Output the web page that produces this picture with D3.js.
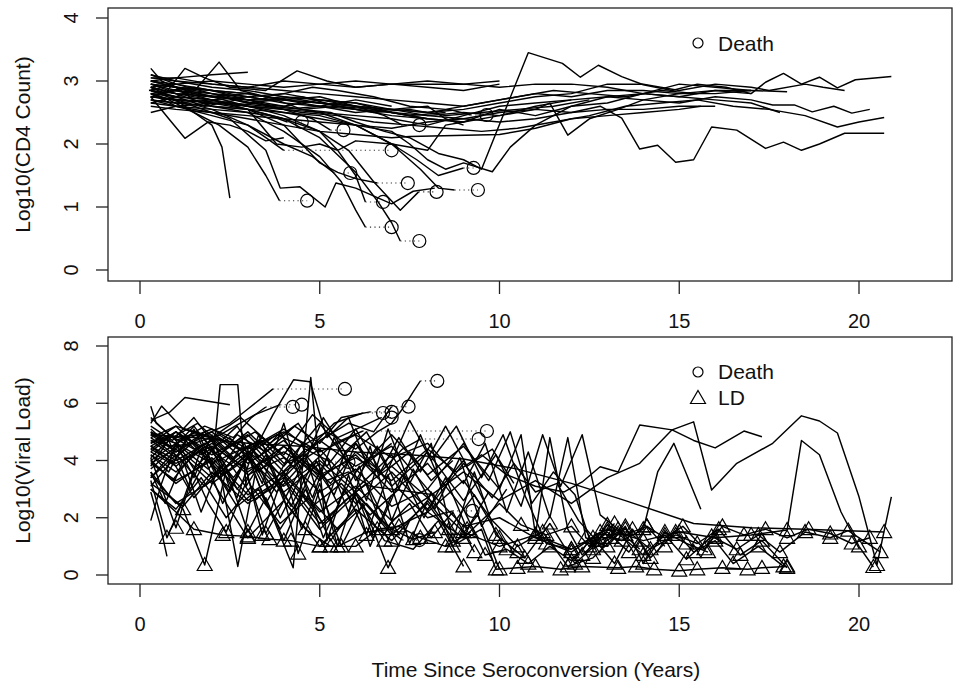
<!DOCTYPE html>
<html>
<head>
<meta charset="utf-8">
<script src="https://cdn.jsdelivr.net/npm/d3@7"></script>
<style>
  body { margin: 0; background: #fff; }
  text { font-family: "Liberation Sans", Arial, Helvetica, sans-serif; fill: #111; }
</style>
</head>
<body>
<svg width="955" height="691"></svg>
<script>

// ---- data (time in years, log10 values) ----

var xTicks = [0, 5, 10, 15, 20]
var cd4Ticks = [0, 1, 2, 3, 4]
var vlTicks = [0, 2, 4, 6, 8]

// CD4 subjects still alive at end of follow-up
var cd4Alive = [
  [[0.3,2.9],[0.8,2.95],[1.5,2.8],[2.2,2.75],[3.0,2.65],[3.8,2.7],[4.5,2.55],[5.3,2.5],[6.0,2.35],[6.8,2.2],[7.5,2.1],[8.3,1.85],[9.0,1.75],[9.5,1.6],[10.8,3.45],[11.75,3.28],[12.25,3.06],[12.75,3.25],[13.4,3.07],[14.0,2.94],[14.8,2.85],[15.5,2.95],[16.3,2.9],[17.0,2.8]],
  [[0.3,2.7],[1.0,2.65],[2.0,2.7],[3.0,2.6],[4.0,2.55],[5.0,2.6],[6.0,2.5],[7.0,2.55],[8.0,2.45],[9.0,2.5],[10.0,2.45],[11.0,2.55],[12.0,2.5],[12.8,2.6],[13.4,2.41],[13.9,1.92],[14.4,1.98],[14.9,1.71],[15.4,1.75],[15.9,2.27],[16.6,2.22],[17.4,1.93],[17.9,2.03],[18.4,1.9],[18.9,2.0],[19.6,2.17],[20.7,2.17]],
  [[0.25,2.85],[1.0,2.95],[2.0,3.0],[3.0,2.95],[4.0,2.9],[5.0,2.95],[6.0,2.9],[7.0,2.95],[8.0,2.95],[9.0,2.95],[10.0,2.9],[11.0,2.95],[12.0,2.95],[13.0,2.9],[14.0,2.8],[15.0,2.75],[16.0,2.85],[17.0,2.8],[17.4,2.98],[17.9,3.12],[18.4,2.95],[18.9,3.06],[19.4,2.89],[19.9,3.02],[20.9,3.07]],
  [[0.3,2.75],[1.2,2.7],[2.5,2.65],[3.5,2.6],[4.5,2.5],[5.5,2.45],[6.5,2.35],[7.5,2.3],[8.5,2.25],[9.5,2.2],[10.5,2.25],[11.5,2.35],[12.5,2.45],[13.5,2.6],[14.5,2.65],[15.5,2.7],[16.5,2.6],[17.5,2.55],[18.5,2.45],[19.4,2.27],[20.0,2.35],[20.7,2.42]],
  [[0.3,3.0],[1.0,2.9],[2.0,2.85],[3.0,2.8],[4.0,2.7],[5.0,2.65],[6.0,2.55],[7.0,2.5],[8.0,2.4],[9.0,2.35],[10.0,2.45],[11.0,2.6],[12.0,2.7],[13.0,2.75],[14.0,2.7],[15.0,2.65],[16.0,2.75],[17.0,2.7],[17.6,2.62],[18.2,2.62],[18.7,2.51],[19.3,2.6],[19.8,2.49],[20.3,2.55]],
  [[0.3,2.8],[1.0,2.85],[2.0,2.75],[3.0,2.8],[4.0,2.7],[5.0,2.75],[6.0,2.6],[7.0,2.55],[8.0,2.5],[9.0,2.55],[10.0,2.65],[11.0,2.75],[12.0,2.8],[13.0,2.95],[14.0,2.95],[15.0,2.85],[16.0,2.95],[17.0,2.9],[17.5,2.85],[18.5,2.95],[19.0,2.9],[19.6,2.85]],
  [[0.3,2.6],[1.0,2.55],[2.0,2.5],[3.0,2.45],[4.0,2.4],[5.0,2.35],[6.0,2.3],[7.0,2.25],[8.0,2.35],[9.0,2.4],[10.0,2.5],[11.0,2.55],[11.4,2.65],[11.9,2.14],[12.5,2.4],[13.3,2.55],[14.0,2.7],[15.0,2.8],[16.0,2.8],[17.0,2.85]],
  [[0.3,3.05],[1.0,3.0],[2.0,2.95],[3.0,2.9],[4.0,2.85],[5.0,2.8],[6.0,2.75],[7.0,2.7],[8.0,2.65],[9.0,2.6],[10.0,2.7],[11.0,2.8],[12.0,2.75],[13.0,2.85],[14.0,2.85],[15.0,2.8],[16.0,2.85],[17.0,2.85],[18.0,2.83]],
  [[0.3,2.9],[1.0,2.8],[2.0,2.75],[3.0,2.7],[4.0,2.7],[5.0,2.6],[6.0,2.55],[7.0,2.45],[8.0,2.4],[9.0,2.35],[10.0,2.55],[11.0,2.45],[12.0,2.6],[13.0,2.65],[14.0,2.8],[15.0,2.75],[16.0,2.7],[17.0,2.65],[17.8,2.5]],
  [[0.3,2.95],[1.0,2.9],[2.0,2.8],[3.0,2.7],[4.0,2.75],[5.0,2.65],[6.0,2.6],[7.0,2.5],[8.0,2.45],[9.0,2.4],[10.0,2.35],[11.0,2.4],[12.0,2.5],[13.0,2.55],[14.0,2.55],[15.0,2.6],[16.0,2.6]],
  [[0.3,2.85],[1.0,2.75],[2.0,2.7],[3.0,2.6],[4.0,2.5],[5.0,2.4],[6.0,2.3],[7.0,2.2],[7.5,2.0],[8.0,1.75],[8.5,1.6],[9.0,1.7],[9.8,1.56],[10.3,1.95],[11.0,2.3],[12.0,2.6],[13.0,2.75],[14.0,2.8],[15.0,2.95],[16.0,2.9],[17.0,2.85]],
  [[0.3,2.7],[1.0,2.6],[2.0,2.5],[3.0,2.4],[4.0,2.3],[5.0,2.2],[6.0,2.15],[7.0,2.1],[7.5,2.12],[10.0,2.15],[11.0,2.25],[12.0,2.4],[13.0,2.45],[14.0,2.5],[15.0,2.55],[15.6,2.6]],
  [[0.3,2.75],[1.0,2.7],[1.5,2.5],[2.0,2.3],[2.28,1.95],[2.5,1.14]],
  [[0.3,3.05],[1.0,3.05],[2.0,3.1],[3.0,3.14]],
  [[0.3,2.75],[0.8,2.4],[1.25,2.09],[1.9,2.35],[2.5,2.3],[3.0,2.2],[3.5,2.05],[4.0,2.1]],
  [[0.3,2.85],[1.0,2.75],[1.6,2.9],[2.2,3.3],[2.8,2.85],[3.5,2.75],[4.0,2.8],[5.0,2.7],[6.0,2.65],[7.0,2.5],[8.0,2.4]],
  [[0.3,2.9],[0.7,2.8],[1.25,3.2],[1.8,3.05],[2.5,2.9],[3.5,2.85],[4.37,3.16],[5.2,3.0],[6.0,2.9],[7.0,2.95],[8.0,2.9],[9.0,2.85],[10.0,2.95]],
  [[0.3,3.2],[0.6,3.0],[1.0,2.9],[1.5,2.7],[2.0,2.6],[3.0,2.55],[3.8,2.0],[4.5,1.95],[5.0,2.0],[5.5,1.9],[6.0,2.05],[7.0,2.0],[8.0,1.9],[8.5,2.3],[9.0,2.35]],
  [[0.3,2.8],[1.5,2.6],[2.5,2.4],[3.5,1.9],[3.9,1.3],[4.45,1.32],[5.15,1.0],[5.45,1.38],[6.0,1.3],[7.0,1.05],[7.6,1.25],[8.2,1.3]],
  [[0.3,2.95],[0.8,2.85],[1.5,2.9],[2.5,2.8],[3.5,2.7],[4.5,2.75],[5.5,2.6],[6.5,2.55],[7.5,2.45],[8.5,2.5]],
  [[0.3,2.8],[1.0,2.75],[2.0,2.7],[3.0,2.75],[4.0,2.65],[5.0,2.6],[6.0,2.7],[7.0,2.6]],
  [[0.3,2.65],[1.0,2.75],[1.8,2.6],[2.7,2.7],[3.6,2.6],[4.5,2.55],[5.5,2.6],[6.5,2.5],[7.5,2.55],[8.5,2.45],[9.5,2.5],[10.5,2.55],[11.5,2.6],[12.5,2.7]],
  [[0.3,3.0],[1.0,3.05],[2.0,2.95],[3.0,2.9],[4.0,3.0],[5.0,2.95],[6.0,3.0],[7.0,2.95],[8.0,3.0],[9.0,2.95],[10.0,3.0]],
  [[0.3,2.5],[1.0,2.6],[2.0,2.65],[3.0,2.6],[4.0,2.55],[5.0,2.5],[6.0,2.45],[7.0,2.4],[8.0,2.3],[9.0,2.45],[10.0,2.6],[11.0,2.65],[12.0,2.7]],
  [[0.3,3.1],[1.0,2.95],[2.0,2.8],[3.0,2.75],[4.0,2.8],[4.8,2.9],[5.5,2.85],[6.5,2.75],[7.5,2.6],[8.5,2.55],[9.5,2.65],[10.5,2.75],[11.5,2.85],[12.5,2.8],[13.5,2.75],[14.5,2.85],[15.5,2.8]],
  [[0.3,2.75],[1.0,2.85],[2.0,2.8],[3.0,2.65],[4.0,2.6],[5.0,2.7],[6.0,2.65],[7.0,2.55],[8.0,2.6],[8.5,2.4],[9.0,2.3]]
]

// CD4 subjects who died, with their death times
var cd4Dead = [
  [[0.3,2.8],[0.8,2.7],[1.5,2.5],[2.2,2.3],[3.0,1.95],[3.5,1.5],[3.88,1.1]],
  [[0.3,2.9],[1.0,2.8],[2.0,2.6],[3.0,2.5],[4.0,2.2],[5.0,1.8],[5.6,1.4],[6.0,0.95],[6.27,0.68]],
  [[0.3,2.75],[1.0,2.7],[2.0,2.65],[3.0,2.55],[4.0,2.4],[5.0,2.1],[6.0,1.55],[6.6,1.1],[7.0,0.75],[7.24,0.46]],
  [[0.3,3.0],[1.0,2.9],[2.0,2.75],[3.0,2.6],[4.0,2.45],[5.0,2.2],[5.5,1.9],[6.0,1.5],[6.27,1.08]],
  [[0.3,2.95],[1.0,2.85],[2.0,2.7],[3.0,2.55],[4.0,2.3],[4.5,2.0],[5.0,1.7],[5.5,1.55],[6.0,1.45],[6.6,1.38]],
  [[0.3,2.85],[1.0,2.8],[2.0,2.7],[3.0,2.55],[4.0,2.4],[5.0,2.2],[5.8,1.9],[6.5,1.4],[7.24,0.95],[7.75,1.24]],
  [[0.3,2.7],[1.0,2.65],[2.0,2.6],[3.0,2.55],[4.0,2.5],[5.0,2.45],[6.0,2.3],[7.0,2.0],[7.8,1.6],[8.3,1.3],[8.75,1.27]],
  [[0.3,2.9],[1.0,2.8],[2.0,2.75],[3.0,2.7],[4.0,2.6],[5.0,2.5],[6.0,2.3],[7.0,2.0],[7.7,1.75],[8.3,1.5],[9.0,1.62]],
  [[0.3,2.8],[1.0,2.6],[2.0,2.45],[3.0,2.3],[4.0,2.0],[4.8,1.8],[5.4,1.54]],
  [[0.3,2.85],[1.0,2.7],[2.0,2.55],[3.0,2.3],[3.5,2.1],[4.0,1.9]],
  [[0.3,3.0],[1.0,2.95],[2.0,2.85],[3.0,2.7],[4.0,2.55],[4.8,2.4],[5.3,2.22]],
  [[0.3,2.65],[1.0,2.6],[2.0,2.55],[3.0,2.5],[3.6,2.45],[4.1,2.35]],
  [[0.3,3.1],[1.0,3.0],[2.0,2.9],[3.0,2.85],[4.0,2.75],[5.0,2.7],[6.0,2.6],[6.8,2.45],[7.3,2.3]],
  [[0.3,2.95],[1.0,2.9],[2.0,2.85],[3.0,2.8],[4.0,2.7],[5.0,2.65],[6.0,2.6],[7.0,2.55],[8.0,2.5],[8.6,2.55],[9.2,2.46]]
]
var cd4DeathTimes = [4.65, 7.0, 7.77, 6.76, 7.45, 8.25, 9.4, 9.28, 5.85, 7.0, 5.66, 4.5, 7.77, 9.64]

// Viral load subjects: [time, log10 VL, 1 = below detection limit]
var vlAlive = [
  [[0.3,5.4],[0.84,5.7],[1.25,6.2],[2.5,5.95]],
  [[0.3,5.0],[0.9,4.4],[1.5,5.2],[2.05,4.3],[2.23,6.65],[2.72,6.65],[2.95,3.1],[3.5,4.2],[4.0,2.6],[4.5,3.8]],
  [[0.3,4.3],[1.0,3.8],[1.8,4.6],[2.6,3.4],[3.2,4.4],[3.7,5.6],[4.27,6.82],[4.73,6.75],[5.2,4.8],[5.8,5.5],[6.3,3.9],[7.0,4.6]],
  [[0.3,3.6],[0.7,2.5],[1.2,4.0],[1.7,2.2],[2.2,3.8],[2.72,0.3],[3.2,3.5],[3.7,2.0],[4.26,0.25],[4.75,6.9],[5.2,1.2],[5.8,3.5],[6.4,1.0],[7.0,2.8]],
  [[0.3,1.9],[0.6,3.2],[1.0,4.6],[1.5,3.4],[2.0,4.9],[2.5,3.0],[3.0,4.2],[3.5,2.5],[4.0,3.6],[4.5,1.6],[5.0,3.2],[5.5,1.0],[6.0,2.9],[6.5,1.3]],
  [[0.3,3.3],[0.75,1.3,1],[1.2,2.6],[1.7,4.4],[2.3,2.5],[2.9,4.0],[3.4,1.4,1],[3.9,3.2],[4.4,0.75,1],[5.0,3.0],[5.6,1.0,1],[6.2,2.5],[6.9,0.25,1],[7.5,1.9]],
  [[0.3,4.1],[1.0,1.65,1],[1.5,3.6],[1.9,2.5],[2.4,1.5,1],[3.0,3.4],[3.5,1.45,1],[4.0,2.6],[4.6,1.6,1],[5.3,1.0,1],[6.0,1.0,1],[6.6,1.6,1],[7.2,1.7,1],[7.8,1.3,1],[8.5,1.0,1],[9.2,1.5,1]],
  [[0.3,3.6],[0.8,2.8],[1.2,2.3,1],[1.8,0.35,1],[2.4,3.7],[3.0,1.5,1],[3.5,2.7],[4.0,1.2,1],[4.6,3.0],[5.3,1.2,1],[6.1,2.6],[6.8,1.2,1],[7.6,0.9],[8.3,1.9],[9.0,0.3,1]],
  [[0.3,2.9],[0.55,1.8],[0.75,0.65]],
  [[0.3,5.9],[0.45,5.3],[1.0,4.7],[1.6,5.0],[2.2,3.4],[2.9,4.6],[3.6,2.9],[4.2,4.3],[4.8,2.7],[5.4,4.8],[6.0,3.3],[6.6,4.5],[7.2,3.0],[7.8,4.9],[8.4,3.1],[9.0,4.0],[9.6,2.5]],
  [[0.3,4.95],[1.0,4.8],[1.6,4.9],[2.3,4.7],[3.0,4.3],[3.6,3.8],[4.2,2.4],[4.8,3.9],[5.4,2.8],[6.0,4.6],[6.6,3.4],[7.2,4.8],[7.8,3.6],[8.5,5.2],[9.1,3.8],[9.8,4.4],[10.4,3.2]],
  [[0.3,4.5],[0.9,3.9],[1.5,5.1],[2.1,3.5],[2.8,4.7],[3.4,3.2],[4.0,5.3],[4.6,2.6],[5.2,4.1],[5.8,2.2],[6.4,4.5],[7.0,1.9],[7.6,3.7],[8.2,2.3],[8.9,4.1],[9.5,1.7],[10.2,3.0]],
  [[0.3,4.1],[0.8,4.7],[1.4,3.0],[2.0,4.4],[2.7,2.7],[3.3,4.9],[3.9,3.1],[4.5,4.6],[5.1,2.2],[5.7,4.3],[6.3,2.6],[6.9,5.1],[7.5,3.2],[8.1,4.6],[8.7,1.2,1],[9.3,3.6],[9.9,1.4,1],[10.5,0.8,1]],
  [[0.3,3.8],[0.9,4.9],[1.5,3.7],[2.1,4.5],[2.7,3.0],[3.3,3.9],[3.9,2.0],[4.5,3.5],[5.1,1.3],[5.7,3.0],[6.3,1.4,1],[6.9,3.5],[7.5,1.1],[8.1,2.9],[8.7,1.0,1],[9.4,2.1],[10.0,0.2,1]],
  [[0.3,4.7],[0.9,4.5],[1.5,4.6],[2.2,4.9],[2.8,4.4],[3.4,4.7],[4.0,3.9],[4.6,4.2],[5.2,3.3],[5.8,3.6],[6.4,3.1],[7.0,3.0],[7.6,2.9],[8.2,2.8]],
  [[0.3,4.9],[1.5,4.8],[3.0,4.6],[4.5,4.5],[6.0,4.3],[7.5,4.2],[9.0,4.05],[10.5,3.7],[12.0,3.2],[13.5,2.6],[15.4,1.8],[17.0,1.65],[18.5,1.6],[20.7,1.5,1]],
  [[0.3,4.4],[1.0,3.9],[2.0,4.5],[3.0,3.7],[4.0,4.3],[5.0,3.5],[6.0,4.1],[7.0,3.3],[8.0,4.4],[8.8,3.6],[9.5,4.2],[10.2,3.5],[11.0,3.1],[11.8,2.9],[12.3,3.25],[12.8,3.78],[13.3,3.6],[13.9,5.24],[14.8,5.07],[15.4,5.35],[15.9,2.97],[16.6,3.9],[17.6,4.6],[18.4,5.56],[18.9,5.38],[19.4,4.96],[20.0,2.73],[20.5,0.35,1],[20.9,2.73]],
  [[0.3,3.7],[1.0,4.5],[2.0,3.4],[3.0,4.3],[4.0,3.1],[5.0,4.0],[6.0,2.9],[7.0,3.8],[8.0,2.7],[9.0,3.6],[10.0,2.6],[11.0,3.3],[12.0,2.5],[13.0,3.4],[13.9,3.9],[14.8,5.07],[15.4,4.7],[16.0,4.44],[16.8,5.03],[17.3,4.83]],
  [[0.3,4.0],[1.0,3.2],[2.0,4.1],[3.0,2.8],[4.0,3.6],[5.0,2.2],[6.0,3.1],[7.0,1.9],[8.0,2.7],[9.0,1.5,1],[10.0,1.0,1],[11.0,1.4,1],[12.0,0.9,1],[13.0,1.6,1],[14.0,1.2,1],[15.0,1.5,1],[16.0,1.3,1],[17.0,1.4,1],[18.0,1.57,1],[18.4,4.7],[18.9,4.2],[19.5,2.2],[20.0,1.0,1],[20.4,0.28,1]],
  [[0.3,4.8],[1.2,4.0],[2.0,4.6],[3.0,3.5],[4.0,4.1],[5.0,2.9],[6.0,3.7],[7.0,2.4],[8.0,3.0],[9.0,1.7],[10.0,2.0],[11.0,1.3,1],[12.0,0.8,1],[12.8,1.5,1],[13.4,1.2,1],[14.0,1.6,1],[14.4,3.6],[14.85,4.6],[15.6,2.3]],
  [[0.3,3.9],[1.0,3.3],[2.0,4.0],[3.0,2.6],[4.0,3.4],[5.0,1.8],[6.0,2.9],[7.0,1.4],[8.0,2.5],[8.8,1.1],[9.5,1.6],[9.9,0.2,1],[10.5,0.25,1],[11.0,0.3,1],[11.7,0.2,1],[12.3,0.3,1],[13.3,0.25,1],[13.8,0.3,1],[14.3,0.2,1],[15.0,0.15,1],[15.5,0.2,1],[16.2,0.25,1],[16.9,0.2,1],[17.3,0.25,1],[18.0,0.3,1]],
  [[0.3,3.2],[1.2,2.4],[2.0,3.6],[3.0,2.5],[4.0,3.3],[5.0,1.6],[6.0,2.8],[7.0,1.6,1],[8.0,2.2],[9.0,1.3,1],[10.0,2.5],[10.6,1.75,1],[11.3,1.4,1],[12.0,1.7,1],[12.5,1.0,1],[13.0,1.75,1],[13.5,1.4,1],[14.1,1.7,1],[14.6,1.3,1],[15.1,1.7,1],[15.7,0.9,1],[16.2,1.7,1],[16.8,1.4,1],[17.4,1.6,1],[18.0,1.3,1],[18.6,1.6,1],[19.2,1.45,1],[19.8,1.1,1],[20.3,1.3,1]],
  [[0.3,5.1],[1.0,4.3],[2.0,5.0],[3.0,3.9],[4.0,4.7],[5.0,3.4],[6.0,4.2],[7.0,2.9],[8.0,3.9],[9.0,2.3],[9.6,0.7,1],[10.2,0.9,1],[10.8,0.4,1],[11.4,1.0,1],[12.0,0.5,1],[12.6,1.3,1],[13.2,0.4,1],[13.7,1.6,1],[14.2,0.6,1],[14.9,1.5,1],[15.4,0.8,1],[16.0,1.2,1],[16.5,0.4,1],[17.2,1.0,1],[17.9,0.3,1]],
  [[0.3,4.3],[1.0,5.0],[2.0,4.2],[3.0,4.9],[4.0,3.6],[5.0,4.4],[6.0,3.0],[7.0,4.2],[8.0,2.2],[9.0,3.3],[9.8,1.9],[10.5,1.0,1],[11.2,1.5,1],[11.9,0.3,1],[12.6,0.6,1],[13.3,1.45,1],[14.0,0.7,1],[14.6,1.4,1],[15.2,0.55,1],[15.9,1.35,1],[16.6,0.9,1],[17.2,1.4,1],[17.8,0.8,1],[18.5,1.5,1],[19.2,1.3,1],[19.7,1.55,1],[20.6,0.8,1]],
  [[0.3,3.5],[1.0,2.5],[2.0,3.3],[3.0,1.3,1],[4.0,2.6],[5.0,1.0,1],[6.0,2.3],[7.0,1.2,1],[8.0,2.6],[8.6,1.6,1],[9.3,2.8],[10.0,1.3,1],[10.7,0.6,1],[11.4,1.8,1],[12.1,0.4,1],[12.8,1.2,1],[13.5,1.6,1],[14.2,0.9,1],[14.9,1.4,1],[15.5,1.1,1],[16.1,1.6,1],[16.7,0.7,1],[17.3,1.2,1],[18.0,0.25,1]],
  [[0.3,4.6],[1.0,5.2],[2.0,4.0],[3.0,5.0],[4.0,3.8],[5.0,5.3],[6.0,3.6],[7.0,4.9],[8.0,3.5],[9.0,4.5],[10.0,3.0],[10.6,4.9],[11.0,1.4,1],[11.4,4.8],[11.9,1.6],[12.3,0.7,1],[13.0,1.5,1],[13.6,0.8,1],[14.1,1.7,1],[14.6,1.0,1]],
  [[0.3,4.9],[1.0,4.6],[2.0,5.1],[3.0,4.4],[4.0,5.0],[5.0,4.3],[6.0,4.9],[7.0,4.1],[8.0,4.6],[9.0,3.2],[9.6,4.6],[10.2,2.2],[10.8,4.3],[11.4,2.0],[11.9,4.8],[12.4,1.3,1],[13.0,1.0,1],[13.5,1.7,1],[14.0,0.4,1],[14.6,1.5,1],[15.2,1.1,1],[15.8,0.8,1]],
  [[0.3,5.3],[0.6,5.9],[1.2,5.1],[2.0,4.8],[2.8,5.5],[3.6,4.6],[4.4,5.3],[5.2,3.8],[6.0,5.1],[6.8,3.4],[7.5,5.4],[8.1,4.0],[8.8,5.2],[9.5,3.4],[10.1,4.9],[10.7,2.8],[11.3,1.1,1],[12.0,0.9,1]],
  [[0.3,3.0],[1.0,2.2],[1.5,1.6,1],[2.3,1.4,1],[3.0,1.35,1],[3.6,1.25,1],[4.2,1.2,1],[5.0,1.0,1],[5.5,1.0,1],[6.3,1.5],[7.0,1.6,1],[7.6,1.25,1],[8.2,1.5,1]],
  [[0.3,4.2],[0.8,3.6],[1.3,4.8],[1.9,4.0],[2.5,2.9],[3.1,4.4],[3.7,3.3],[4.3,2.3],[4.9,4.0],[5.5,2.5],[6.1,3.8],[6.7,1.8],[7.3,3.5],[7.9,2.0],[8.5,3.4],[9.1,1.6,1],[9.7,2.9]],
  [[0.3,3.1],[0.9,4.0],[1.5,2.7],[2.1,3.6],[2.7,2.4],[3.3,3.0],[3.9,1.6],[4.5,2.8],[5.1,1.8],[5.7,2.6],[6.3,3.2],[6.9,1.7],[7.5,2.5],[8.1,1.3,1],[8.7,2.2],[9.3,0.8,1]],
  [[0.3,5.2],[0.9,4.7],[1.5,5.5],[2.1,4.5],[2.7,5.2],[3.3,4.1],[3.9,5.0],[4.5,3.7],[5.1,5.5],[5.7,4.3],[6.3,5.0],[6.9,3.7],[7.5,4.3],[8.1,3.3],[8.7,4.0]],
  [[0.3,4.5],[1.0,4.0],[2.0,4.7],[3.0,3.6],[4.0,4.5],[5.0,3.3],[6.0,4.6],[7.0,3.1],[8.0,4.3],[9.0,2.6],[9.9,4.2],[10.6,2.4],[11.2,4.9],[11.7,3.1],[12.3,4.9],[12.8,2.1],[13.3,1.6,1],[13.9,0.9,1]],
  [[0.3,3.4],[1.0,4.4],[2.0,3.2],[3.0,4.1],[4.0,2.9],[5.0,3.9],[6.0,2.5],[7.0,3.6],[8.0,2.3],[9.0,3.9],[9.8,2.7],[10.4,3.9],[11.0,2.9],[11.6,3.2],[12.2,1.9],[12.7,1.2,1],[13.2,1.8,1]],
  [[0.3,4.0],[1.0,4.6],[2.0,3.9],[3.0,4.5],[4.0,3.4],[5.0,4.7],[6.0,3.8],[7.0,4.5],[8.0,3.0],[9.0,4.6],[9.7,3.3],[10.3,5.0],[10.9,2.5],[11.5,3.6],[12.1,2.8],[12.6,0.9,1],[13.1,1.3,1]]
]

var vlDead = [
  [[0.3,4.6],[0.8,4.9],[1.5,4.4],[2.2,4.8],[3.0,4.2],[3.8,4.9],[4.5,4.5],[5.2,5.0],[6.0,4.4],[6.6,5.0],[7.0,5.3],[7.3,5.8],[7.6,6.4],[7.8,6.78]],
  [[0.3,4.8],[1.0,5.2],[1.8,4.9],[2.5,5.3],[3.0,5.8],[3.5,6.3],[3.7,6.5]],
  [[0.3,5.0],[1.0,4.6],[1.8,5.2],[2.6,4.8],[3.1,5.5],[3.5,5.87]],
  [[0.3,4.4],[1.0,5.0],[1.7,4.5],[2.5,5.1],[3.2,5.6],[3.9,5.95]],
  [[0.3,4.2],[1.0,3.6],[1.8,4.5],[2.6,3.8],[3.3,4.6],[4.0,5.1],[4.7,4.4],[5.4,5.3],[6.2,5.66]],
  [[0.3,3.9],[1.1,4.5],[1.9,3.7],[2.7,4.9],[3.5,4.3],[4.3,5.2],[5.0,4.6],[5.6,5.5],[6.4,5.7]],
  [[0.3,5.5],[0.9,4.8],[1.6,5.3],[2.4,4.4],[3.2,5.0],[4.0,4.2],[4.8,5.6],[5.5,4.8],[6.2,5.2],[6.7,5.5]],
  [[0.3,4.9],[1.0,4.3],[1.8,5.0],[2.6,4.1],[3.4,4.8],[4.2,3.9],[5.0,4.7],[5.8,5.3],[6.5,5.0],[7.0,5.88]],
  [[0.3,4.5],[1.0,5.0],[1.7,4.2],[2.5,4.8],[3.3,3.6],[4.0,4.5],[4.7,3.8],[5.4,4.6],[6.2,5.03]],
  [[0.3,4.0],[0.9,3.3],[1.6,4.4],[2.3,3.5],[3.0,4.2],[3.8,2.9],[4.6,4.0],[5.3,3.2],[6.0,4.3],[6.7,3.6],[7.3,4.4],[7.8,4.75]],
  [[0.3,3.4],[1.0,4.2],[1.8,3.1],[2.5,3.9],[3.2,2.6],[4.0,3.5],[4.8,2.4],[5.6,3.2],[6.4,2.1],[7.2,3.0],[8.0,2.0],[8.7,2.24]],
  [[0.3,3.0],[1.0,2.3],[1.7,3.4],[2.4,2.0],[3.1,3.1],[3.9,1.8],[4.7,2.7],[5.5,1.6],[6.3,2.5],[7.0,1.5],[7.3,1.22]],
  [[0.3,4.7],[1.0,4.1],[1.7,4.9],[2.4,3.8],[3.1,4.6],[3.9,3.5],[4.6,4.4],[5.3,3.95]]
]
var vlDeathTimes = [8.27, 5.7, 4.25, 4.5, 6.76, 7.0, 7.0, 7.47, 9.65, 9.42, 9.25, 7.77, 5.8]

// ---- drawing ----

var svg = d3.select("svg")

var x = d3.scaleLinear().domain([0, 20]).range([140, 859])
var yTop = d3.scaleLinear().domain([0, 4]).range([270, 18])
var yBot = d3.scaleLinear().domain([0, 8]).range([575, 346])

var boxLeft = 108, boxRight = 952
var fontSize = "20px"

function trianglePath(cx, cy) {
  return "M" + cx + "," + (cy - 7.5) + "L" + (cx + 7.5) + "," + (cy + 5.5) + "L" + (cx - 7.5) + "," + (cy + 5.5) + "Z"
}

function panel(y, boxTop, boxBottom, yTicks, title, alive, dead, deathTimes, showLD) {
  var g = svg.append("g")

  var line = d3.line()
    .x(function(d){ return x(d[0]); })
    .y(function(d){ return y(d[1]); })

  var all = alive.concat(dead)

  g.selectAll(".subj").data(all).enter().append("path")
    .attr("class", "subj")
    .attr("d", line)
    .style("fill", "none")
    .style("stroke", "#000")
    .style("stroke-width", 1.45)
    .style("stroke-linejoin", "round")

  // dotted line from last visit to death, then circle
  var deaths = dead.map(function(s, i){ var last = s[s.length - 1]; return {t0: last[0], v: last[1], t1: deathTimes[i]}; })

  g.selectAll(".dline").data(deaths).enter().append("line")
    .attr("x1", function(d){ return x(d.t0); })
    .attr("x2", function(d){ return x(d.t1); })
    .attr("y1", function(d){ return y(d.v); })
    .attr("y2", function(d){ return y(d.v); })
    .style("stroke", "#333")
    .style("stroke-width", 1.1)
    .style("stroke-dasharray", "1.2,3.3")

  g.selectAll(".dcirc").data(deaths).enter().append("circle")
    .attr("cx", function(d){ return x(d.t1); })
    .attr("cy", function(d){ return y(d.v); })
    .attr("r", 6.5)
    .style("fill", "none")
    .style("stroke", "#000")
    .style("stroke-width", 1.2)

  if (showLD) {
    var ld = []
    all.forEach(function(s){ s.forEach(function(p){ if (p[2]) ld.push(p); }); })
    g.selectAll(".ld").data(ld).enter().append("path")
      .attr("d", function(d){ return trianglePath(x(d[0]), y(d[1])); })
      .style("fill", "none")
      .style("stroke", "#000")
      .style("stroke-width", 1.2)
  }

  // box
  g.append("rect")
    .attr("x", boxLeft).attr("y", boxTop)
    .attr("width", boxRight - boxLeft).attr("height", boxBottom - boxTop)
    .style("fill", "none").style("stroke", "#222").style("stroke-width", 1.3)

  // x axis
  g.selectAll(".xt").data(xTicks).enter().append("line")
    .attr("x1", function(d){ return x(d); }).attr("x2", function(d){ return x(d); })
    .attr("y1", boxBottom).attr("y2", boxBottom + 13)
    .style("stroke", "#222").style("stroke-width", 1.3)
  g.selectAll(".xl").data(xTicks).enter().append("text")
    .attr("x", function(d){ return x(d); })
    .attr("y", boxBottom + 47)
    .attr("text-anchor", "middle")
    .style("font-size", fontSize)
    .text(function(d){ return d; })

  // y axis
  g.selectAll(".yt").data(yTicks).enter().append("line")
    .attr("x1", boxLeft).attr("x2", boxLeft - 12)
    .attr("y1", function(d){ return y(d); }).attr("y2", function(d){ return y(d); })
    .style("stroke", "#222").style("stroke-width", 1.3)
  g.selectAll(".yl").data(yTicks).enter().append("text")
    .attr("transform", function(d){ return "translate(78," + y(d) + ") rotate(-90)"; })
    .attr("text-anchor", "middle")
    .style("font-size", fontSize)
    .text(function(d){ return d; })

  g.append("text")
    .attr("transform", "translate(30," + ((boxTop + boxBottom) / 2) + ") rotate(-90)")
    .attr("text-anchor", "middle")
    .style("font-size", "21px")
    .text(title)

  return g
}

var gTop = panel(yTop, 8, 281, cd4Ticks, "Log10(CD4 Count)", cd4Alive, cd4Dead, cd4DeathTimes, false)
var gBot = panel(yBot, 337, 584, vlTicks, "Log10(Viral Load)", vlAlive, vlDead, vlDeathTimes, true)

// legends
gTop.append("circle").attr("cx", 698).attr("cy", 43).attr("r", 5)
  .style("fill", "none").style("stroke", "#000").style("stroke-width", 1.2)
gTop.append("text").attr("x", 718).attr("y", 51).style("font-size", "21px").text("Death")

gBot.append("circle").attr("cx", 698).attr("cy", 372).attr("r", 5)
  .style("fill", "none").style("stroke", "#000").style("stroke-width", 1.2)
gBot.append("text").attr("x", 718).attr("y", 379).style("font-size", "21px").text("Death")
gBot.append("path").attr("d", trianglePath(698, 398))
  .style("fill", "none").style("stroke", "#000").style("stroke-width", 1.2)
gBot.append("text").attr("x", 718).attr("y", 405).style("font-size", "21px").text("LD")

svg.append("text")
  .attr("x", 536).attr("y", 677)
  .attr("text-anchor", "middle")
  .style("font-size", "21px")
  .text("Time Since Seroconversion (Years)")

</script>
</body>
</html>
